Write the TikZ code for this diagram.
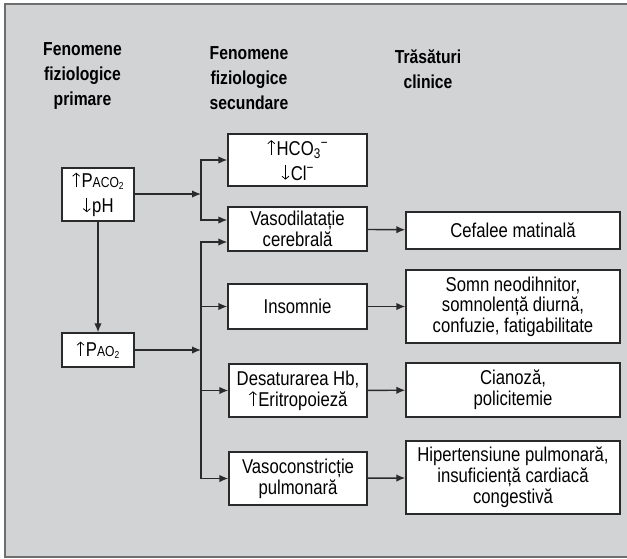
\documentclass[tikz,border=0pt]{standalone}
\usepackage{fontspec}
\setmainfont{Liberation Sans}[FakeStretch=0.835]
\usetikzlibrary{arrows.meta}
\definecolor{panel}{HTML}{D2D3D5}
\definecolor{ink}{HTML}{2A2A2A}
\definecolor{frame}{HTML}{6E6E6E}
\newcommand{\smallcap}[1]{{\fontsize{14.5}{14}\selectfont #1}}
% thin text arrows (up / down) built with the basic pgf layer
\newcommand{\textarrow}[2]{%
  \begin{pgfpicture}%
    \pgfsetlinewidth{0.8pt}%
    \pgfsetarrowsend{Straight Barb[length=3pt,width=7pt]}%
    \pgfpathmoveto{\pgfpoint{0pt}{#1}}%
    \pgfpathlineto{\pgfpoint{0pt}{#2}}%
    \pgfusepath{stroke}%
  \end{pgfpicture}}
\newcommand{\uparr}{\hspace{0.5pt}\textarrow{0pt}{14.5pt}\hspace{1.5pt}}
\newcommand{\dnarr}{\hspace{0.5pt}\textarrow{14.5pt}{0pt}\hspace{1.5pt}}
\begin{document}
\begin{tikzpicture}[x=1pt,y=-1pt,
  box/.style={draw=ink, line width=1.4pt, fill=white, align=center, inner sep=0pt,
    font=\fontsize{20}{21}\selectfont, text=black},
  tallbox/.style={box, font=\fontsize{20}{25}\selectfont},
  arr/.style={draw=ink, line width=1.4pt, -{Latex[length=9pt,width=7.5pt]}},
  head/.style={align=center, text=black, font=\fontsize{18.8}{25}\selectfont\bfseries}]
\useasboundingbox (0,0) rectangle (627,558);
% panel
\fill[panel] (5,4) rectangle (627,557);
\draw[frame, line width=1.5pt] (627,4) -- (5,4) -- (5,557) -- (627,557);

% column headings
\node[head] (h1) at (82.5,76) {Fenomene\\fiziologice\\primare};
\node[head] (h2) at (249,78) {Fenomene\\fiziologice\\secundare};
\node[head] (h3) at (428,69) {Trăsături\\clinice};

% primary phenomena
\node[tallbox, minimum width=72, minimum height=53] (pco2) at (98,194.5)
  {\uparr P\smallcap{ACO\textsubscript{2}}\\\dnarr pH};
\node[box, minimum width=72, minimum height=34] (pao2) at (98,350)
  {\uparr P\smallcap{AO\textsubscript{2}}};

% secondary phenomena
\node[tallbox, minimum width=139, minimum height=52] (hco3) at (297.5,160)
  {\uparr HCO\textsubscript{3}\textsuperscript{−}\\\dnarr Cl\textsuperscript{−}};
\node[box, minimum width=139, minimum height=44] (vasod) at (297.5,229)
  {Vasodilatație\\cerebrală};
\node[box, minimum width=139, minimum height=45] (insom) at (297.5,306.5)
  {Insomnie};
\node[box, minimum width=138, minimum height=53] (desat) at (298,390.5)
  {Desaturarea Hb,\\\uparr Eritropoieză};
\node[box, minimum width=138, minimum height=53] (vasoc) at (298,478.5)
  {Vasoconstricție\\pulmonară};

% clinical features
\node[box, minimum width=214, minimum height=37] (cef) at (513,230.5)
  {Cefalee matinală};
\node[box, minimum width=214, minimum height=73, font=\fontsize{20}{20.5}\selectfont] (somn) at (513,306.5)
  {Somn neodihnitor,\\somnolență diurnă,\\confuzie, fatigabilitate};
\node[box, minimum width=214, minimum height=54] (cian) at (513,390)
  {Cianoză,\\policitemie};
\node[box, minimum width=214, minimum height=73] (hip) at (513,477.5)
  {Hipertensiune pulmonară,\\insuficiență cardiacă\\congestivă};

% branch points on the two buses
\coordinate (j1) at (201,194);
\coordinate (j2) at (201,350);

% connectors
\draw[arr] (pco2) -- (pao2);
\draw[arr] (pco2.east |- j1) -- (j1);
\draw[arr] (j1) |- (hco3.west);
\draw[arr] (j1) |- ([yshift=9pt]vasod.west);

\draw[arr] (pao2.east |- j2) -- (j2);
\draw[arr] (j2) |- ([yshift=-13pt]vasod.west);
\draw[arr] (j2) |- (insom.west);
\draw[arr] (j2) |- (desat.west);
\draw[arr] (j2) |- (vasoc.west);

\draw[arr] (vasod) -- (cef);
\draw[arr] (insom) -- (somn);
\draw[arr] (desat) -- (cian);
\draw[arr] (vasoc) -- (hip);
\end{tikzpicture}
\end{document}
